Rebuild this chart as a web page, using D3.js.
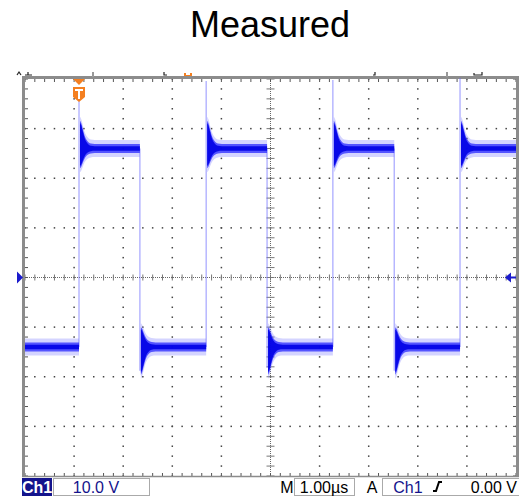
<!DOCTYPE html>
<html lang="en">
<head>
<meta charset="UTF-8">
<title>Measured</title>
<style>
  body { margin:0; background:#fff; overflow:hidden; }
  svg { display:block; font-family:"Liberation Sans", Arial, sans-serif; }
</style>
</head>
<body>
<svg id="chart" width="519" height="498"></svg>
<script src="https://d3js.org/d3.v7.min.js"></script>
<script>
// scope settings
const xDivs = 10, yDivs = 8;
const timeDomain = [0, 10];     // µs across the screen (1.00 µs/div)
const voltDomain = [-40, 40];   // V (10.0 V/div, ground at centre)

// waveform (µs from left edge, volts)
const edgeTimes = [1.10, 2.34, 3.69, 4.93, 6.27, 7.52, 8.86];
const edgeKinds = ['rise', 'fall', 'rise', 'fall', 'rise', 'fall', 'rise'];
const edgePeaks = [35.5, -18.8, 39.6, -18.2, 39.8, -18.8, 40.2];
const highLevel = 26.0, lowLevel = -14.0;
// ringing envelope after an edge: µs after edge, V away from level
const ringT   = [0.02, 0.05, 0.08, 0.12, 0.17, 0.24, 0.32];
const ringOut = [5.6, 5.0, 3.8, 2.4, 1.5, 1.0, 0.9];   // overshoot side
const ringIn  = [4.0, 3.6, 2.8, 1.9, 1.3, 1.0, 0.9];   // other side
const bandHalf = 0.9;

// status bar labels
const chName = 'Ch1', chScale = '10.0 V', timeScale = '1.00µs', trigSource = 'Ch1', trigLevel = '0.00 V';

const svg = d3.select('#chart');
const x = d3.scaleLinear().domain(timeDomain).range([25, 516]);
const y = d3.scaleLinear().domain(voltDomain).range([476, 79]);
const xStep = (timeDomain[1] - timeDomain[0]) / xDivs;
const yStep = (voltDomain[1] - voltDomain[0]) / yDivs;

// title
svg.append('text').attr('x', 270).attr('y', 37).attr('text-anchor', 'middle')
  .style('font-size', '36px').attr('fill', '#000').text('Measured');

const grid = svg.append('g');
// graticule dots
for (let i = 1; i < xDivs; i++) {
  if (i === xDivs / 2) continue;
  const gx = x(timeDomain[0] + i * xStep);
  for (let k = 0; k <= yDivs * 5; k++) {
    grid.append('rect').attr('x', gx - 0.75).attr('y', y(voltDomain[0] + k * yStep / 5) - 0.75)
      .attr('width', 1.5).attr('height', 1.5).attr('fill', '#444');
  }
}
for (let j = 1; j < yDivs; j++) {
  if (j === yDivs / 2) continue;
  const gy = y(voltDomain[0] + j * yStep);
  for (let k = 0; k <= xDivs * 5; k++) {
    grid.append('rect').attr('x', x(timeDomain[0] + k * xStep / 5) - 0.75).attr('y', gy - 0.75)
      .attr('width', 1.5).attr('height', 1.5).attr('fill', '#444');
  }
}
// centre crosshair with minor ticks
const cx = x((timeDomain[0] + timeDomain[1]) / 2), cy = y(0);
grid.append('line').attr('x1', 25).attr('x2', 516).attr('y1', cy).attr('y2', cy)
  .attr('stroke', '#666').attr('stroke-dasharray', '1,1');
grid.append('line').attr('x1', cx).attr('x2', cx).attr('y1', 79).attr('y2', 476)
  .attr('stroke', '#666').attr('stroke-dasharray', '1,1');
for (let k = 0; k <= xDivs * 5; k++) {
  const tx = x(timeDomain[0] + k * xStep / 5);
  grid.append('line').attr('x1', tx).attr('x2', tx).attr('y1', cy - 3).attr('y2', cy + 3)
    .attr('stroke', '#777').attr('stroke-width', 1);
  // frame ticks top / bottom
  grid.append('line').attr('x1', tx).attr('x2', tx).attr('y1', 79).attr('y2', 82).attr('stroke', '#555');
  grid.append('line').attr('x1', tx).attr('x2', tx).attr('y1', 473).attr('y2', 476).attr('stroke', '#555');
}
for (let k = 0; k <= yDivs * 5; k++) {
  const ty = y(voltDomain[0] + k * yStep / 5);
  grid.append('line').attr('x1', cx - 4).attr('x2', cx + 4).attr('y1', ty).attr('y2', ty)
    .attr('stroke', '#777').attr('stroke-width', 1);
  grid.append('line').attr('x1', 25).attr('x2', 28).attr('y1', ty).attr('y2', ty).attr('stroke', '#555');
  grid.append('line').attr('x1', 513).attr('x2', 516).attr('y1', ty).attr('y2', ty).attr('stroke', '#555');
}
// frame
grid.append('line').attr('x1', 22).attr('x2', 519).attr('y1', 77.5).attr('y2', 77.5).attr('stroke', '#8c8c8c').attr('stroke-width', 3);
grid.append('line').attr('x1', 23.5).attr('x2', 23.5).attr('y1', 76).attr('y2', 477).attr('stroke', '#8c8c8c').attr('stroke-width', 3);
grid.append('line').attr('x1', 517.5).attr('x2', 517.5).attr('y1', 76).attr('y2', 477).attr('stroke', '#8c8c8c').attr('stroke-width', 3);
grid.append('line').attr('x1', 22).attr('x2', 519).attr('y1', 476.5).attr('y2', 476.5).attr('stroke', '#8c8c8c').attr('stroke-width', 1.5);

// waveform segments
const segments = [];
let level = lowLevel, t0 = timeDomain[0], kind = null;
edgeTimes.forEach((t, i) => {
  segments.push({ t0, t1: t, level, kind });
  t0 = t; kind = edgeKinds[i]; level = kind === 'rise' ? highLevel : lowLevel;
});
segments.push({ t0, t1: timeDomain[1], level, kind });

function envelope(s) {
  const pts = [];
  if (s.kind) {
    ringT.forEach((rt, k) => {
      const up = s.kind === 'rise' ? ringOut[k] : ringIn[k];
      const dn = s.kind === 'rise' ? ringIn[k] : ringOut[k];
      pts.push({ t: s.t0 + rt, up, dn });
    });
  } else {
    pts.push({ t: s.t0, up: bandHalf, dn: bandHalf });
  }
  pts.push({ t: s.t1, up: bandHalf, dn: bandHalf });
  return pts;
}

const trace = svg.append('g');
// edges and spikes
edgeTimes.forEach((t, i) => {
  const from = edgeKinds[i] === 'rise' ? lowLevel : highLevel;
  trace.append('line').attr('x1', x(t)).attr('x2', x(t)).attr('y1', y(from)).attr('y2', y(edgePeaks[i]))
    .attr('stroke', '#6a6aff').attr('stroke-width', 1.3).attr('opacity', 0.55);
});
const layers = [
  { grow: 0.8, fill: '#7070ff', op: 0.3 },
  { grow: 0.0, fill: '#2a2aff', op: 0.75 },
  { grow: -0.45, fill: '#0000e6', op: 0.9 }
];
layers.forEach(L => {
  segments.forEach(s => {
    const area = d3.area()
      .x(d => x(d.t))
      .y0(d => y(s.level - Math.max(d.dn + L.grow, 0.25)))
      .y1(d => y(s.level + Math.max(d.up + L.grow, 0.25)))
      .curve(d3.curveMonotoneX);
    trace.append('path').attr('d', area(envelope(s))).attr('fill', L.fill).attr('opacity', L.op);
  });
});

// trigger position marker "T"
const tx0 = x(edgeTimes[0]);
const orange = '#f47f20';
svg.append('path').attr('d', `M${tx0 - 6},79 h12 l-6,6 z`).attr('fill', orange);
svg.append('path').attr('d', `M${tx0 - 6},87 h12 v10 l-6,5 l-6,-5 z`).attr('fill', orange);
svg.append('rect').attr('x', tx0 - 4).attr('y', 89).attr('width', 8).attr('height', 2).attr('fill', '#fff');
svg.append('rect').attr('x', tx0 - 1).attr('y', 89).attr('width', 2).attr('height', 10).attr('fill', '#fff');

// ground and trigger level markers
const blue = '#1a1acc';
svg.append('path').attr('d', `M17,${cy - 6} L23,${cy} L17,${cy + 6} z`).attr('fill', blue);
svg.append('path').attr('d', `M505,${cy} L511,${cy - 5} L511,${cy + 5} z`).attr('fill', blue);
svg.append('line').attr('x1', 508).attr('x2', 516).attr('y1', cy).attr('y2', cy).attr('stroke', blue).attr('stroke-width', 2);

// small record markers above the frame
const topMarks = svg.append('g');
topMarks.append('path').attr('d', 'M17,75 l2,-3 l2,3 M25,75 h7 M28,72 v3').attr('stroke', '#222').attr('fill', 'none').attr('stroke-width', 1.2);
topMarks.append('rect').attr('x', 92).attr('y', 72).attr('width', 2).attr('height', 5).attr('fill', '#999');
topMarks.append('path').attr('d', 'M164,72 v3 h3').attr('stroke', '#222').attr('fill', 'none').attr('stroke-width', 1.2);
topMarks.append('path').attr('d', 'M184,73 h2 v2 h4 v-2 h2 v3 h-8 z').attr('fill', orange);
topMarks.append('path').attr('d', 'M375,72 v3 h-2').attr('stroke', '#222').attr('fill', 'none').attr('stroke-width', 1.2);
topMarks.append('rect').attr('x', 446).attr('y', 72).attr('width', 2).attr('height', 5).attr('fill', '#999');
topMarks.append('path').attr('d', 'M474,73 v2 h8 v-3').attr('stroke', '#222').attr('fill', 'none').attr('stroke-width', 1.2);

// status bar
const navy = '#14148c';
const bar = svg.append('g').style('font-size', '16px');
bar.append('rect').attr('x', 22).attr('y', 478).attr('width', 30).attr('height', 18).attr('fill', navy);
bar.append('text').attr('x', 37).attr('y', 493).attr('text-anchor', 'middle').attr('fill', '#fff')
  .style('font-weight', 'bold').text(chName);
bar.append('rect').attr('x', 53.5).attr('y', 478.5).attr('width', 96).attr('height', 17)
  .attr('fill', '#fff').attr('stroke', '#aaa');
bar.append('text').attr('x', 96).attr('y', 493).attr('text-anchor', 'middle').attr('fill', navy).text(chScale);
bar.append('text').attr('x', 287).attr('y', 493).attr('text-anchor', 'middle').attr('fill', '#000').text('M');
bar.append('rect').attr('x', 294.5).attr('y', 478.5).attr('width', 60).attr('height', 17)
  .attr('fill', 'none').attr('stroke', '#aaa');
bar.append('text').attr('x', 324).attr('y', 493).attr('text-anchor', 'middle').attr('fill', '#000').text(timeScale);
bar.append('text').attr('x', 372).attr('y', 493).attr('text-anchor', 'middle').attr('fill', '#000').text('A');
bar.append('rect').attr('x', 382.5).attr('y', 478.5).attr('width', 140).attr('height', 17)
  .attr('fill', 'none').attr('stroke', '#aaa');
bar.append('text').attr('x', 408).attr('y', 493).attr('text-anchor', 'middle').attr('fill', navy).text(trigSource);
bar.append('path').attr('d', 'M433,491 h3 l3,-9 h3').attr('stroke', '#000').attr('stroke-width', 2).attr('fill', 'none');
bar.append('text').attr('x', 517).attr('y', 493).attr('text-anchor', 'end').attr('fill', '#000').text(trigLevel);
</script>
</body>
</html>
